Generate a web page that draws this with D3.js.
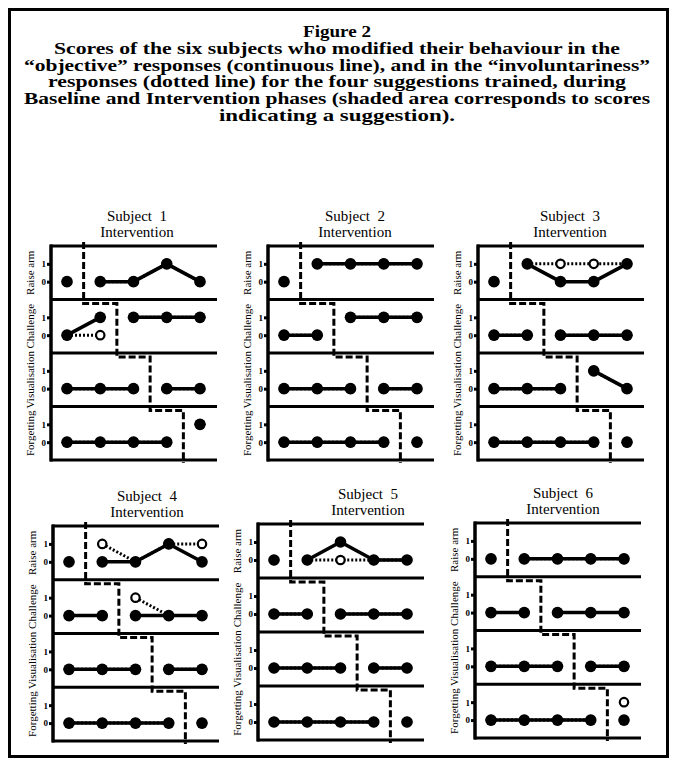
<!DOCTYPE html>
<html>
<head>
<meta charset="utf-8">
<script src="https://cdnjs.cloudflare.com/ajax/libs/d3/7.8.5/d3.min.js"></script>
<style>
body { margin: 0; background: #fff; }
svg { display: block; }
text { font-family: "Liberation Serif", "Times New Roman", serif; fill: #000; }
</style>
</head>
<body>
<svg></svg>
<script>
// figure size
var width = 675;
var height = 762;

// ---- data ----
var titleLines = [
	'Figure 2',
	'Scores of the six subjects who modified their behaviour in the',
	'\u201cobjective\u201d responses (continuous line), and in the \u201cinvoluntariness\u201d',
	'responses (dotted line) for the four suggestions trained, during',
	'Baseline and Intervention phases (shaded area corresponds to scores',
	'indicating a suggestion).'
];

var suggestions = ['Raise arm', 'Challenge', 'Visualisation', 'Forgetting'];
var sessions = [1, 2, 3, 4, 5];
var baselineLength = [1, 2, 3, 4];	// sessions of baseline in each row
var yTicks = [0, 1];
var subjectNames = ['Subject  1', 'Subject  2', 'Subject  3', 'Subject  4', 'Subject  5', 'Subject  6'];

// one row per suggestion, one value per session (0 = no, 1 = suggestion)
var objective1 = [[0, 0, 0, 1, 0], [0, 1, 1, 1, 1], [0, 0, 0, 0, 0], [0, 0, 0, 0, 1]];
var involuntary1 = [[0, 0, 0, 1, 0], [0, 0, 1, 1, 1], [0, 0, 0, 0, 0], [0, 0, 0, 0, 1]];
var objective2 = [[0, 1, 1, 1, 1], [0, 0, 1, 1, 1], [0, 0, 0, 0, 0], [0, 0, 0, 0, 0]];
var involuntary2 = [[0, 1, 1, 1, 1], [0, 0, 1, 1, 1], [0, 0, 0, 0, 0], [0, 0, 0, 0, 0]];
var objective3 = [[0, 1, 0, 0, 1], [0, 0, 0, 0, 0], [0, 0, 0, 1, 0], [0, 0, 0, 0, 0]];
var involuntary3 = [[0, 1, 1, 1, 1], [0, 0, 0, 0, 0], [0, 0, 0, 1, 0], [0, 0, 0, 0, 0]];
var objective4 = [[0, 0, 0, 1, 0], [0, 0, 0, 0, 0], [0, 0, 0, 0, 0], [0, 0, 0, 0, 0]];
var involuntary4 = [[0, 1, 0, 1, 1], [0, 0, 1, 0, 0], [0, 0, 0, 0, 0], [0, 0, 0, 0, 0]];
var objective5 = [[0, 0, 1, 0, 0], [0, 0, 0, 0, 0], [0, 0, 0, 0, 0], [0, 0, 0, 0, 0]];
var involuntary5 = [[0, 0, 0, 0, 0], [0, 0, 0, 0, 0], [0, 0, 0, 0, 0], [0, 0, 0, 0, 0]];
var objective6 = [[0, 0, 0, 0, 0], [0, 0, 0, 0, 0], [0, 0, 0, 0, 0], [0, 0, 0, 0, 0]];
var involuntary6 = [[0, 0, 0, 0, 0], [0, 0, 0, 0, 0], [0, 0, 0, 0, 0], [0, 0, 0, 0, 1]];

var objective = [objective1, objective2, objective3, objective4, objective5, objective6];
var involuntary = [involuntary1, involuntary2, involuntary3, involuntary4, involuntary5, involuntary6];

// ---- layout ----
// widths the caption lines take in the original (the print is wider than Times)
var titleWidths = [68, 566, 626, 578, 626, 236];

var panels = [
	{ left: 51, top: 246, bottom: 460, titleX: 137 },
	{ left: 268, top: 246, bottom: 460, titleX: 355 },
	{ left: 478, top: 246, bottom: 460, titleX: 570 },
	{ left: 53, top: 526, bottom: 741, titleX: 147 },
	{ left: 258, top: 524, bottom: 740, titleX: 368 },
	{ left: 475, top: 523, bottom: 738, titleX: 563 }
];
var panelWidth = 166;

var svg = d3.select('svg')
	.attr('width', width)
	.attr('height', height);

// outer frame
svg.append('rect')
	.attr('x', 9.5).attr('y', 9.5)
	.attr('width', 658).attr('height', 747)
	.attr('fill', 'none')
	.attr('stroke', '#000')
	.attr('stroke-width', 3);

// caption
svg.append('g')
	.selectAll('text')
	.data(titleLines)
	.join('text')
	.attr('x', 337)
	.attr('y', function(d, i) { return 37 + i * 16.8; })
	.attr('text-anchor', 'middle')
	.attr('font-weight', 'bold')
	.attr('font-size', '16px')
	.attr('textLength', function(d, i) { return titleWidths[i]; })
	.attr('lengthAdjust', 'spacingAndGlyphs')
	.text(function(d) { return d; });

panels.forEach(function(p, s) {
	var g = svg.append('g');
	var rowH = (p.bottom - p.top) / suggestions.length;

	var x = d3.scaleLinear()
		.domain([1, 5])
		.range([p.left + 16, p.left + 149]);

	// titles
	g.append('text')
		.attr('x', p.titleX).attr('y', p.top - 25)
		.attr('text-anchor', 'middle')
		.attr('font-size', '15px')
		.style('white-space', 'pre')
		.text(subjectNames[s]);
	g.append('text')
		.attr('x', p.titleX).attr('y', p.top - 9)
		.attr('text-anchor', 'middle')
		.attr('font-size', '15px')
		.text('Intervention');

	// row separators (x axes)
	g.selectAll('line.sep')
		.data(d3.range(suggestions.length + 1))
		.join('line')
		.attr('class', 'sep')
		.attr('x1', p.left - 1).attr('x2', p.left + panelWidth)
		.attr('y1', function(r) { return p.top + r * rowH; })
		.attr('y2', function(r) { return p.top + r * rowH; })
		.attr('stroke', '#000')
		.attr('stroke-width', 3);

	// y axis
	g.append('line')
		.attr('x1', p.left).attr('x2', p.left)
		.attr('y1', p.top - 1.5).attr('y2', p.bottom + 1.5)
		.attr('stroke', '#000')
		.attr('stroke-width', 3.5);

	// phase change line, stepping down through the rows
	var step = d3.path();
	var px = x(baselineLength[0] + 0.5);
	step.moveTo(px, p.top - 4);
	for (var r = 1; r < suggestions.length; r++) {
		var yy = p.top + r * rowH + 4;
		step.lineTo(px, yy);
		px = x(baselineLength[r] + 0.5);
		step.lineTo(px, yy);
	}
	step.lineTo(px, p.bottom + 3);
	g.append('path')
		.attr('d', step.toString())
		.attr('fill', 'none')
		.attr('stroke', '#000')
		.attr('stroke-width', 3)
		.attr('stroke-dasharray', '7,3');

	suggestions.forEach(function(name, r) {
		var rowTop = p.top + r * rowH;
		var y = d3.scaleLinear()
			.domain([-1, 2])
			.range([rowTop + rowH, rowTop]);

		// row label
		g.append('text')
			.attr('transform', 'translate(' + (p.left - 17) + ',' + (rowTop + rowH / 2) + ') rotate(-90)')
			.attr('text-anchor', 'middle')
			.attr('font-size', '11px')
			.text(name);

		// ticks
		var ax = g.append('g')
			.attr('transform', 'translate(' + p.left + ',0)')
			.call(d3.axisLeft(y).tickValues(yTicks).tickSize(4).tickPadding(1).tickFormat(d3.format('d')));
		ax.select('.domain').remove();
		ax.selectAll('line').attr('stroke', '#000').attr('stroke-width', 3);
		ax.selectAll('text')
			.attr('fill', '#000')
			.attr('font-size', '9px')
			.attr('font-weight', 'bold');

		var bl = baselineLength[r];
		var phases = [sessions.filter(function(d) { return d <= bl; }),
			sessions.filter(function(d) { return d > bl; })];

		var line = d3.line()
			.x(function(d) { return x(d.s); })
			.y(function(d) { return y(d.v); });

		var inv = involuntary[s][r];
		var obj = objective[s][r];

		phases.forEach(function(ph) {
			var invPts = ph.map(function(d) { return { s: d, v: inv[d - 1] }; });
			var objPts = ph.map(function(d) { return { s: d, v: obj[d - 1] }; });

			// involuntariness: dotted line, open circles
			g.append('path')
				.attr('d', line(invPts))
				.attr('fill', 'none')
				.attr('stroke', '#000')
				.attr('stroke-width', 3)
				.attr('stroke-dasharray', '2,2');
			// objective: continuous line, filled circles
			g.append('path')
				.attr('d', line(objPts))
				.attr('fill', 'none')
				.attr('stroke', '#000')
				.attr('stroke-width', 3.5);

			g.selectAll(null)
				.data(invPts)
				.join('circle')
				.attr('cx', function(d) { return x(d.s); })
				.attr('cy', function(d) { return y(d.v); })
				.attr('r', 4.2)
				.attr('fill', '#fff')
				.attr('stroke', '#000')
				.attr('stroke-width', 2.2);
			g.selectAll(null)
				.data(objPts)
				.join('circle')
				.attr('cx', function(d) { return x(d.s); })
				.attr('cy', function(d) { return y(d.v); })
				.attr('r', 5.8)
				.attr('fill', '#000');
		});
	});
});
</script>
</body>
</html>
